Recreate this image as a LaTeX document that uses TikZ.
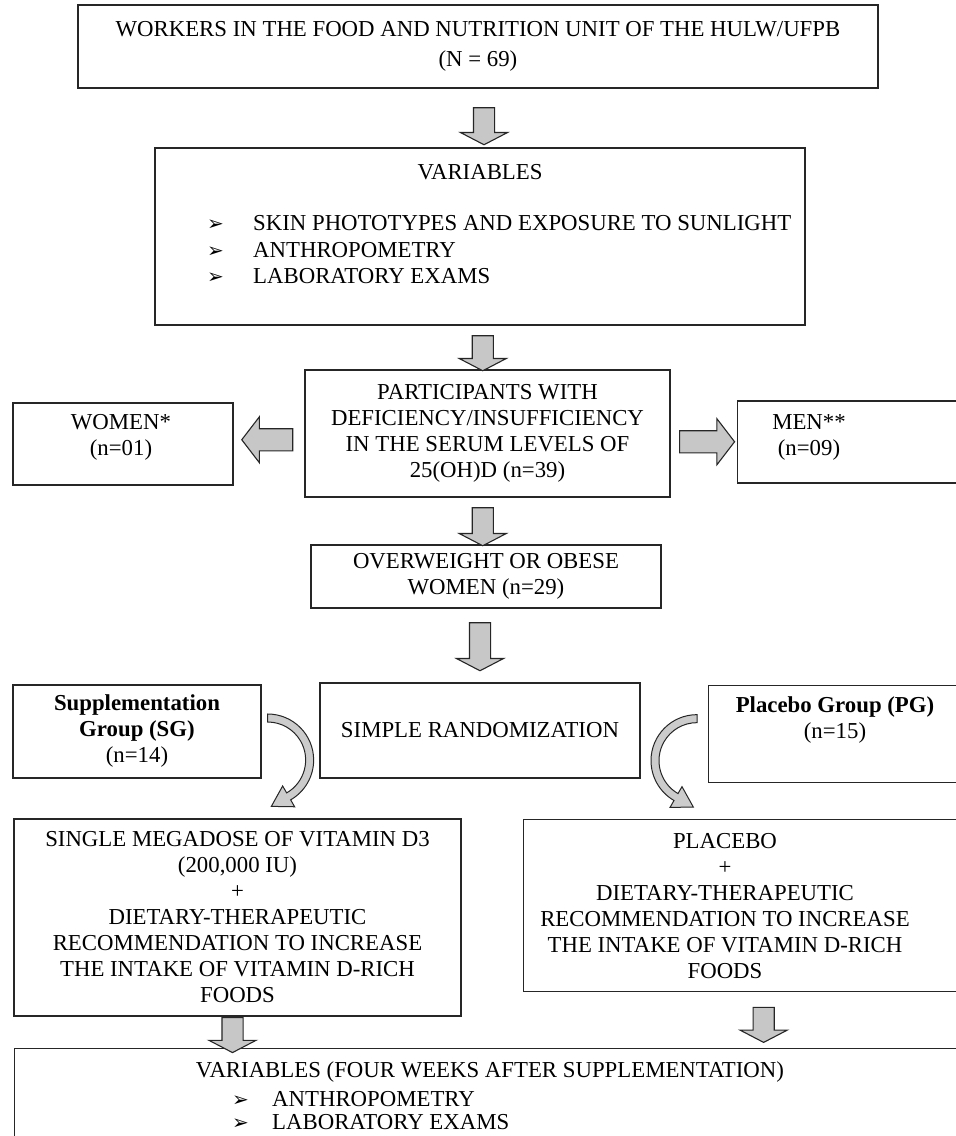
\documentclass[tikz,border=0pt]{standalone}
\usepackage{fontspec}
\setmainfont{Liberation Serif}
\newfontfamily\dingfont{DejaVu Sans}
\usetikzlibrary{calc,positioning,shapes.arrows}

\tikzset{
  box/.style={draw=black!85, line width=1.3pt, fill=white, align=center, inner sep=0pt,
    font=\fontsize{22.8}{26}\selectfont},
  txt/.style={align=center, inner sep=0pt, font=\fontsize{22.8}{26}\selectfont},
  downarr/.style={single arrow, draw=black!85, line width=1.1pt, fill=black!22, rotate=-90,
    minimum width=46pt, single arrow head extend=13pt, single arrow tip angle=125,
    inner xsep=0pt, inner ysep=10pt},
  sidearr/.style={single arrow, draw=black!85, line width=1.1pt, fill=black!22,
    minimum width=45pt, single arrow head extend=12pt, single arrow tip angle=105,
    inner xsep=0pt, inner ysep=10.5pt},
  bendarr/.style={draw=black!85, line width=1pt, fill=black!20, line join=miter}
}
\newcommand{\bul}[1]{\makebox[#1][l]{\dingfont\fontsize{20}{20}\selectfont ➢}}

\begin{document}
\begin{tikzpicture}[x=1pt,y=1pt]
\useasboundingbox (0,0) rectangle (956,-1136);

% boxes
\node[box, minimum width=800pt, minimum height=83pt] (workers) at (478,-46.5)
  {WORKERS IN THE FOOD AND NUTRITION UNIT OF THE HULW/UFPB\\[4pt](N = 69)};

\node[box, minimum width=650pt, minimum height=177pt] (vars) at (480,-236.5) {};
\node[txt] (varstitle) at (480,-172) {VARIABLES};
\foreach \i/\t/\y in {1/SKIN PHOTOTYPES AND EXPOSURE TO SUNLIGHT/223,
                      2/ANTHROPOMETRY/250,
                      3/LABORATORY EXAMS/276}
  \node[txt, anchor=west] (var\i) at (207,-\y) {\bul{46pt}\t};

\node[box, minimum width=365pt, minimum height=127pt] (defic) at (487.5,-433.5)
  {PARTICIPANTS WITH\\DEFICIENCY/INSUFFICIENCY\\IN THE SERUM LEVELS OF\\25(OH)D (n=39)};

\node[box, minimum width=220pt, minimum height=82pt] (women) at (123,-444) {};
\node[txt] (womentxt) at (121,-437) {WOMEN*\\(n=01)};

\node[box, minimum width=240pt, minimum height=82pt, anchor=west] (men) at (737,-442) {};
\node[txt] (mentxt) at (809,-437) {MEN**\\(n=09)};

\node[box, minimum width=350pt, minimum height=63pt] (obese) at (486,-576.5)
  {OVERWEIGHT OR OBESE\\WOMEN (n=29)};

\node[box, minimum width=248pt, minimum height=93pt] (sg) at (137,-731.5)
  {\textbf{Supplementation}\\\textbf{Group (SG)}\\(n=14)};
\node[box, minimum width=320pt, minimum height=95pt] (rand) at (480,-730.5)
  {SIMPLE RANDOMIZATION};
\node[box, minimum width=270pt, minimum height=97pt, anchor=north west] (pg) at (708,-685) {};
\node[txt] (pgtxt) at (835,-720) {\textbf{Placebo Group (PG)}\\(n=15)};

\node[box, minimum width=447pt, minimum height=197pt] (dose) at (237.5,-917.5)
  {SINGLE MEGADOSE OF VITAMIN D3\\(200,000 IU)\\+\\DIETARY-THERAPEUTIC\\RECOMMENDATION TO INCREASE\\THE INTAKE OF VITAMIN D-RICH\\FOODS};
\node[box, minimum width=450pt, minimum height=172pt, anchor=north west] (plac) at (523,-819) {};
\node[txt] (plactxt) at (725,-906)
  {PLACEBO\\+\\DIETARY-THERAPEUTIC\\RECOMMENDATION TO INCREASE\\THE INTAKE OF VITAMIN D-RICH\\FOODS};

\node[box, minimum width=980pt, minimum height=110pt, anchor=north west] (after) at (14,-1048) {};
\node[txt] (aftertitle) at (490,-1072) {VARIABLES (FOUR WEEKS AFTER SUPPLEMENTATION)};
\foreach \i/\t/\y in {1/ANTHROPOMETRY/1099, 2/LABORATORY EXAMS/1122}
  \node[txt, anchor=west] (after\i) at (232,-\y) {\bul{40pt}\t};

% block arrows between the boxes
\node[downarr, minimum height=37pt] (a1) at ($(workers.south)!.5!(vars.north)+(5,-5.5)$) {};
\node[downarr, minimum height=35pt] (a2) at ($(vars.south)!.5!(defic.north)+(-1,-3)$) {};
\node[sidearr, rotate=180, minimum height=51pt] (aw) at ($(women.east)!.5!(defic.west)+(2.5,-1)$) {};
\node[sidearr, minimum height=55pt] (am) at ($(defic.east)!.5!(men.west)+(-1,-4)$) {};
\node[downarr, minimum height=38pt] (a3) at ($(defic.south)!.5!(obese.north)+(-4,-3)$) {};
\node[downarr, minimum height=48pt] (a4) at ($(obese.south)!.5!(rand.north)+(-3,1.5)$) {};
\node[downarr, minimum height=35pt] (a5) at ($(dose.south)!.5!(dose.south|-after.north)+(-5,0)$) {};
\node[downarr, minimum height=35pt] (a6) at ($(plac.south)!.5!(plac.south|-after.north)+(15,-2)$) {};

% curved arrows out of the two groups
\begin{scope}[shift={($(sg.east)+(6,-28.5)$)}]
  \draw[bendarr] (90:46pt) arc[start angle=90, end angle=-60, radius=46pt]
    -- (-60:54pt) -- ($(-60:42pt)+(-150:20pt)$) -- (-60:30pt) -- (-60:38pt)
    arc[start angle=-60, end angle=90, radius=38pt] -- cycle;
\end{scope}
\begin{scope}[shift={($(pg.west)+(-11,-26.5)$)}]
  \draw[bendarr] (90:46pt) arc[start angle=90, end angle=240, radius=46pt]
    -- (240:54pt) -- ($(240:42pt)+(330:20pt)$) -- (240:30pt) -- (240:38pt)
    arc[start angle=240, end angle=90, radius=38pt] -- cycle;
\end{scope}
\end{tikzpicture}
\end{document}
